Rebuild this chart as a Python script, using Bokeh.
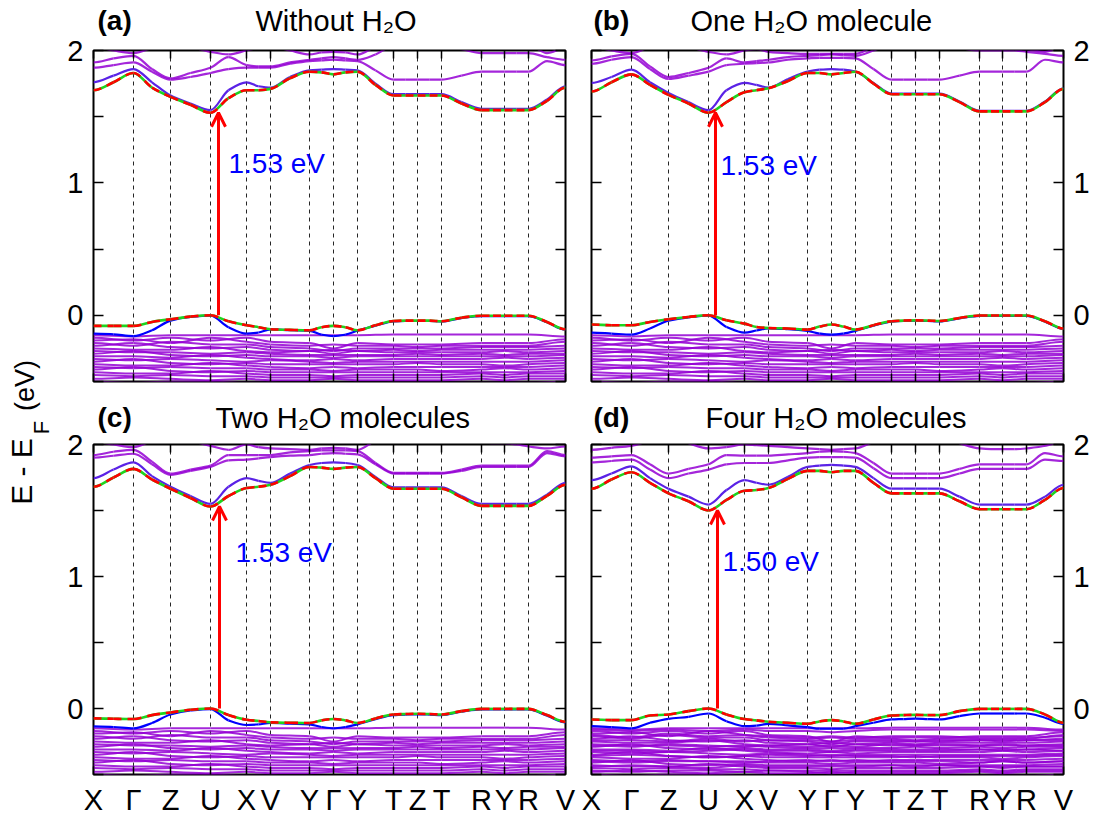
from math import pi
from bokeh.plotting import figure
from bokeh.models import (Range1d, FixedTicker, LinearAxis, Grid, Label, Arrow,
                          OpenHead, ColumnDataSource)
from bokeh.layouts import row, column
from bokeh.embed import file_html
from bokeh.resources import INLINE

# ---------------- k-path ----------------
KPOS = [0, 40, 77, 117, 153, 177, 216, 240, 264, 300, 324, 348, 388, 411, 435, 472]
KLABELS = ["X", "Γ", "Z", "U", "X", "V", "Y", "Γ", "Y", "T", "Z", "T", "R", "Y", "R", "V"]
# sample positions: high-symmetry points and the middle of each segment
KS = [0, 20, 40, 58.5, 77, 97, 117, 135, 153, 165, 177, 196.5, 216, 228, 240, 252, 264,
      282, 300, 312, 324, 336, 348, 368, 388, 399.5, 411, 423, 435, 453.5, 472]

# ---------------- (a) without H2O ----------------
CB1_A = [1.70, 1.76, 1.83, 1.72, 1.65, 1.59, 1.53, 1.64, 1.70, 1.70, 1.71, 1.79, 1.84, 1.835, 1.82, 1.835, 1.84, 1.74, 1.66, 1.66, 1.66, 1.66, 1.66, 1.60, 1.55, 1.55, 1.55, 1.55, 1.55, 1.62, 1.72]
CB2_A = [1.76, 1.81, 1.86, 1.76, 1.66, 1.60, 1.55, 1.70, 1.76, 1.73, 1.72, 1.80, 1.85, 1.855, 1.86, 1.855, 1.85, 1.75, 1.67, 1.67, 1.67, 1.67, 1.67, 1.61, 1.56, 1.56, 1.56, 1.56, 1.56, 1.63, 1.73]
CB3_A = [1.87, 1.89, 1.91, 1.84, 1.78, 1.80, 1.83, 1.86, 1.87, 1.87, 1.87, 1.90, 1.92, 1.925, 1.93, 1.925, 1.92, 1.85, 1.78, 1.78, 1.78, 1.78, 1.78, 1.81, 1.84, 1.84, 1.84, 1.84, 1.84, 1.92, 1.89]
CB4_A = [1.91, 1.94, 1.96, 1.86, 1.79, 1.83, 1.87, 1.95, 1.89, 1.88, 1.88, 1.91, 1.93, 1.94, 1.95, 1.94, 1.93, 1.97, 2.04, 2.05, 2.06, 2.05, 2.04, 2.01, 1.98, 1.98, 1.98, 1.98, 1.98, 1.95, 1.93]
CB5_A = [2.03, 2.00, 1.98, 2.02, 2.08, 2.03, 1.99, 1.97, 2.00, 2.02, 2.03, 2.00, 1.97, 1.985, 1.99, 1.985, 1.97, 2.03, 2.08, 2.09, 2.10, 2.09, 2.08, 2.06, 2.04, 2.04, 2.04, 2.04, 2.04, 1.98, 2.02]
VB1_A = [-0.08, -0.08, -0.08, -0.05, -0.03, -0.01, 0.0, -0.045, -0.075, -0.09, -0.105, -0.11, -0.113, -0.09, -0.08, -0.09, -0.113, -0.075, -0.043, -0.04, -0.04, -0.04, -0.045, -0.018, -0.003, -0.003, -0.003, -0.003, -0.003, -0.05, -0.105]
VB2_A = [-0.138, -0.144, -0.157, -0.113, -0.04, -0.012, -0.003, -0.09, -0.138, -0.13, -0.107, -0.113, -0.117, -0.146, -0.157, -0.146, -0.117, -0.078, -0.046, -0.043, -0.043, -0.043, -0.047, -0.021, -0.006, -0.006, -0.006, -0.006, -0.006, -0.053, -0.108]

# ---------------- (b) one H2O ----------------
CB1_B = [1.69, 1.76, 1.82, 1.74, 1.665, 1.60, 1.53, 1.61, 1.685, 1.70, 1.715, 1.77, 1.83, 1.83, 1.82, 1.83, 1.84, 1.75, 1.67, 1.67, 1.67, 1.67, 1.67, 1.61, 1.54, 1.54, 1.54, 1.54, 1.54, 1.61, 1.71]
CB2_B = [1.755, 1.80, 1.855, 1.76, 1.68, 1.61, 1.55, 1.70, 1.755, 1.74, 1.72, 1.785, 1.84, 1.855, 1.86, 1.855, 1.84, 1.755, 1.675, 1.675, 1.675, 1.675, 1.675, 1.615, 1.545, 1.545, 1.545, 1.545, 1.545, 1.615, 1.715]
CB3_B = [1.90, 1.93, 1.95, 1.86, 1.785, 1.81, 1.84, 1.89, 1.90, 1.905, 1.91, 1.93, 1.94, 1.945, 1.945, 1.945, 1.94, 1.86, 1.78, 1.78, 1.78, 1.78, 1.78, 1.81, 1.84, 1.84, 1.84, 1.84, 1.84, 1.93, 1.91]
CB4_B = [1.925, 1.955, 1.975, 1.88, 1.80, 1.83, 1.87, 1.94, 1.91, 1.92, 1.93, 1.95, 1.96, 1.965, 1.97, 1.965, 1.96, 2.00, 2.05, 2.06, 2.06, 2.06, 2.05, 2.02, 2.00, 2.00, 2.00, 2.00, 1.99, 1.975, 1.96]
CB5_B = [2.03, 2.00, 1.98, 2.03, 2.08, 2.03, 1.99, 1.97, 2.00, 2.01, 1.99, 1.98, 1.975, 1.975, 1.975, 1.975, 1.975, 2.03, 2.08, 2.09, 2.10, 2.09, 2.08, 2.06, 2.04, 2.04, 2.04, 2.03, 2.01, 1.99, 2.03]
VB1_B = [-0.07, -0.075, -0.075, -0.05, -0.03, -0.013, 0.0, -0.038, -0.063, -0.088, -0.096, -0.10, -0.108, -0.085, -0.07, -0.085, -0.108, -0.075, -0.045, -0.04, -0.038, -0.04, -0.043, -0.02, -0.002, -0.002, -0.002, -0.002, -0.002, -0.045, -0.10]
VB2_B = [-0.131, -0.138, -0.146, -0.10, -0.04, -0.015, -0.003, -0.088, -0.131, -0.115, -0.098, -0.105, -0.118, -0.138, -0.146, -0.138, -0.118, -0.078, -0.048, -0.043, -0.041, -0.043, -0.046, -0.023, -0.005, -0.005, -0.005, -0.005, -0.005, -0.048, -0.103]

# ---------------- (c) two H2O ----------------
CB1_C = [1.68, 1.75, 1.815, 1.735, 1.665, 1.595, 1.53, 1.61, 1.67, 1.68, 1.695, 1.76, 1.83, 1.825, 1.815, 1.825, 1.83, 1.745, 1.665, 1.665, 1.665, 1.665, 1.665, 1.60, 1.535, 1.535, 1.535, 1.535, 1.535, 1.61, 1.695]
CB2_C = [1.745, 1.81, 1.865, 1.76, 1.68, 1.61, 1.55, 1.68, 1.745, 1.725, 1.71, 1.78, 1.845, 1.86, 1.865, 1.86, 1.845, 1.755, 1.675, 1.675, 1.675, 1.675, 1.675, 1.61, 1.55, 1.55, 1.55, 1.55, 1.55, 1.62, 1.71]
CB3_C = [1.90, 1.915, 1.93, 1.85, 1.77, 1.80, 1.83, 1.88, 1.885, 1.895, 1.905, 1.915, 1.92, 1.93, 1.935, 1.93, 1.925, 1.85, 1.78, 1.78, 1.78, 1.78, 1.78, 1.80, 1.83, 1.83, 1.83, 1.83, 1.83, 1.935, 1.91]
CB4_C = [1.92, 1.945, 1.96, 1.87, 1.78, 1.81, 1.84, 1.92, 1.92, 1.92, 1.92, 1.94, 1.95, 1.955, 1.955, 1.955, 1.95, 1.86, 1.785, 1.785, 1.785, 1.785, 1.785, 1.81, 1.84, 1.84, 1.84, 1.84, 1.84, 1.95, 1.92]
CB5_C = [2.02, 2.00, 1.98, 2.03, 2.08, 2.03, 1.99, 1.96, 2.00, 1.98, 1.97, 1.965, 1.96, 1.97, 1.975, 1.97, 1.96, 2.03, 2.08, 2.09, 2.10, 2.09, 2.08, 2.05, 2.02, 2.01, 2.01, 2.00, 1.985, 1.97, 1.985]
VB1_C = [-0.075, -0.078, -0.08, -0.05, -0.03, -0.01, 0.0, -0.05, -0.085, -0.095, -0.105, -0.108, -0.11, -0.09, -0.08, -0.09, -0.11, -0.075, -0.045, -0.042, -0.04, -0.042, -0.045, -0.02, -0.003, -0.003, -0.003, -0.003, -0.003, -0.05, -0.10]
VB2_C = [-0.135, -0.14, -0.15, -0.11, -0.045, -0.015, -0.004, -0.09, -0.125, -0.12, -0.11, -0.115, -0.12, -0.14, -0.15, -0.14, -0.12, -0.08, -0.05, -0.046, -0.044, -0.046, -0.05, -0.024, -0.007, -0.007, -0.007, -0.007, -0.007, -0.055, -0.105]

# ---------------- (d) four H2O ----------------
CB1_D = [1.665, 1.735, 1.79, 1.71, 1.63, 1.57, 1.50, 1.58, 1.65, 1.655, 1.67, 1.74, 1.80, 1.80, 1.79, 1.80, 1.80, 1.71, 1.63, 1.63, 1.63, 1.63, 1.63, 1.57, 1.51, 1.51, 1.51, 1.51, 1.51, 1.58, 1.67]
CB2_D = [1.73, 1.78, 1.835, 1.745, 1.665, 1.605, 1.545, 1.655, 1.73, 1.71, 1.695, 1.755, 1.83, 1.84, 1.845, 1.84, 1.83, 1.745, 1.665, 1.665, 1.665, 1.665, 1.665, 1.605, 1.545, 1.545, 1.545, 1.545, 1.545, 1.605, 1.695]
CB3_D = [1.865, 1.875, 1.885, 1.81, 1.745, 1.78, 1.81, 1.85, 1.86, 1.86, 1.86, 1.88, 1.90, 1.905, 1.905, 1.905, 1.90, 1.82, 1.745, 1.745, 1.745, 1.745, 1.745, 1.78, 1.815, 1.815, 1.815, 1.815, 1.815, 1.885, 1.875]
CB4_D = [1.90, 1.91, 1.92, 1.85, 1.78, 1.815, 1.85, 1.92, 1.915, 1.915, 1.915, 1.925, 1.935, 1.945, 1.95, 1.945, 1.935, 1.86, 1.78, 1.78, 1.78, 1.78, 1.78, 1.815, 1.85, 1.85, 1.85, 1.85, 1.85, 1.935, 1.91]
CB5_D = [1.96, 1.975, 1.99, 2.03, 2.06, 2.01, 1.97, 1.98, 2.00, 1.995, 1.99, 1.98, 1.97, 1.965, 1.96, 1.965, 1.97, 2.02, 2.06, 2.07, 2.07, 2.07, 2.06, 2.01, 1.97, 1.965, 1.965, 1.965, 1.97, 1.99, 2.02]
VB1_D = [-0.083, -0.088, -0.088, -0.053, -0.045, -0.02, 0.0, -0.045, -0.08, -0.09, -0.10, -0.108, -0.116, -0.098, -0.088, -0.098, -0.116, -0.083, -0.053, -0.05, -0.048, -0.05, -0.05, -0.02, -0.003, -0.003, -0.003, -0.003, -0.003, -0.045, -0.108]
VB2_D = [-0.134, -0.141, -0.151, -0.108, -0.078, -0.063, -0.038, -0.096, -0.134, -0.13, -0.116, -0.128, -0.141, -0.153, -0.153, -0.153, -0.134, -0.108, -0.083, -0.08, -0.076, -0.08, -0.083, -0.058, -0.038, -0.038, -0.038, -0.038, -0.038, -0.07, -0.116]

# deeper valence bands (values at the 16 high-symmetry points)
DEEP = [
    [-0.15, -0.16, -0.15, -0.15, -0.15, -0.15, -0.15, -0.15, -0.15, -0.145, -0.145, -0.145, -0.145, -0.145, -0.145, -0.16],
    [-0.17, -0.19, -0.17, -0.19, -0.17, -0.20, -0.21, -0.25, -0.21, -0.22, -0.22, -0.22, -0.21, -0.21, -0.21, -0.18],
    [-0.19, -0.18, -0.21, -0.17, -0.20, -0.22, -0.23, -0.22, -0.23, -0.23, -0.24, -0.23, -0.23, -0.23, -0.23, -0.20],
    [-0.21, -0.23, -0.20, -0.22, -0.22, -0.24, -0.25, -0.27, -0.25, -0.25, -0.25, -0.25, -0.24, -0.24, -0.24, -0.23],
    [-0.23, -0.21, -0.24, -0.25, -0.24, -0.26, -0.27, -0.26, -0.27, -0.26, -0.27, -0.26, -0.26, -0.26, -0.26, -0.25],
    [-0.25, -0.26, -0.26, -0.24, -0.27, -0.28, -0.27, -0.29, -0.27, -0.28, -0.28, -0.28, -0.28, -0.27, -0.28, -0.27],
    [-0.27, -0.28, -0.28, -0.29, -0.28, -0.29, -0.30, -0.30, -0.30, -0.30, -0.29, -0.30, -0.29, -0.30, -0.29, -0.29],
    [-0.29, -0.27, -0.30, -0.31, -0.30, -0.31, -0.31, -0.32, -0.31, -0.31, -0.31, -0.31, -0.31, -0.31, -0.31, -0.30],
    [-0.31, -0.31, -0.32, -0.30, -0.32, -0.33, -0.34, -0.33, -0.34, -0.33, -0.33, -0.33, -0.33, -0.32, -0.33, -0.32],
    [-0.33, -0.34, -0.33, -0.34, -0.35, -0.34, -0.35, -0.36, -0.35, -0.35, -0.35, -0.35, -0.35, -0.35, -0.35, -0.34],
    [-0.35, -0.33, -0.36, -0.37, -0.36, -0.37, -0.37, -0.37, -0.37, -0.37, -0.36, -0.37, -0.37, -0.38, -0.37, -0.36],
    [-0.37, -0.38, -0.38, -0.36, -0.38, -0.39, -0.40, -0.39, -0.40, -0.39, -0.39, -0.39, -0.39, -0.39, -0.39, -0.38],
    [-0.39, -0.40, -0.39, -0.40, -0.40, -0.41, -0.41, -0.42, -0.41, -0.41, -0.41, -0.42, -0.41, -0.40, -0.41, -0.40],
    [-0.41, -0.39, -0.42, -0.43, -0.42, -0.43, -0.43, -0.43, -0.43, -0.43, -0.43, -0.43, -0.43, -0.43, -0.43, -0.42],
    [-0.43, -0.44, -0.44, -0.42, -0.44, -0.45, -0.45, -0.46, -0.45, -0.45, -0.45, -0.45, -0.44, -0.45, -0.44, -0.44],
    [-0.45, -0.46, -0.45, -0.46, -0.46, -0.47, -0.47, -0.47, -0.47, -0.47, -0.47, -0.47, -0.46, -0.47, -0.46, -0.46],
    [-0.48, -0.47, -0.48, -0.49, -0.48, -0.49, -0.49, -0.48, -0.49, -0.49, -0.49, -0.49, -0.48, -0.49, -0.48, -0.48],
    [-0.50, -0.51, -0.50, -0.50, -0.51, -0.51, -0.52, -0.52, -0.52, -0.51, -0.51, -0.51, -0.51, -0.51, -0.51, -0.50],
]
DEEP_D_EXTRA = [
    [-0.16, -0.17, -0.16, -0.17, -0.16, -0.17, -0.17, -0.18, -0.17, -0.16, -0.16, -0.16, -0.16, -0.16, -0.16, -0.17],
    [-0.20, -0.22, -0.19, -0.21, -0.20, -0.21, -0.22, -0.21, -0.22, -0.21, -0.21, -0.21, -0.22, -0.22, -0.22, -0.21],
    [-0.24, -0.24, -0.25, -0.23, -0.25, -0.24, -0.24, -0.25, -0.24, -0.24, -0.25, -0.24, -0.24, -0.25, -0.24, -0.24],
    [-0.28, -0.29, -0.27, -0.28, -0.29, -0.28, -0.29, -0.28, -0.29, -0.27, -0.28, -0.27, -0.28, -0.28, -0.28, -0.28],
    [-0.32, -0.32, -0.33, -0.32, -0.31, -0.32, -0.32, -0.33, -0.32, -0.32, -0.32, -0.32, -0.31, -0.32, -0.31, -0.32],
    [-0.36, -0.35, -0.36, -0.37, -0.36, -0.35, -0.36, -0.35, -0.36, -0.36, -0.37, -0.36, -0.36, -0.36, -0.36, -0.35],
    [-0.40, -0.41, -0.40, -0.40, -0.41, -0.40, -0.39, -0.40, -0.39, -0.40, -0.40, -0.40, -0.41, -0.40, -0.41, -0.40],
    [-0.44, -0.43, -0.44, -0.45, -0.43, -0.44, -0.44, -0.44, -0.44, -0.43, -0.44, -0.43, -0.44, -0.44, -0.44, -0.44],
    [-0.47, -0.48, -0.47, -0.47, -0.48, -0.47, -0.48, -0.49, -0.48, -0.48, -0.48, -0.48, -0.47, -0.48, -0.47, -0.47],
]

TAGS = ["(a)", "(b)", "(c)", "(d)"]
TITLES = ["Without H₂O", "One H₂O molecule", "Two H₂O molecules", "Four H₂O molecules"]
GAPS = [1.53, 1.53, 1.53, 1.50]
GAP_TEXT = ["1.53 eV", "1.53 eV", "1.53 eV", "1.50 eV"]

# ---------------- style ----------------
FONT = "Liberation Sans"
PURPLE = "#9400d3"
BLUE = "#0000ff"
BLUE_C = "#5a22e6"
RED = "#ff0000"
GREEN = "#1ed41e"
U_IDX = 3


def bezier_data(xs, bands):
    """Smooth (monotone cubic Hermite) rendering of each band as bezier segments."""
    out = {k: [] for k in ("x0", "y0", "x1", "y1", "cx0", "cy0", "cx1", "cy1")}
    for ys in bands:
        n = len(xs)
        d = [(ys[i + 1] - ys[i]) / (xs[i + 1] - xs[i]) for i in range(n - 1)]
        m = [0.0] * n
        for i in range(1, n - 1):
            if d[i - 1] * d[i] > 0:
                m[i] = 2.0 / (1.0 / d[i - 1] + 1.0 / d[i])
        for i in range(n - 1):
            h = xs[i + 1] - xs[i]
            out["x0"].append(xs[i]); out["y0"].append(ys[i])
            out["x1"].append(xs[i + 1]); out["y1"].append(ys[i + 1])
            out["cx0"].append(xs[i] + h / 3); out["cy0"].append(ys[i] + m[i] * h / 3)
            out["cx1"].append(xs[i + 1] - h / 3); out["cy1"].append(ys[i + 1] - m[i + 1] * h / 3)
    return ColumnDataSource(out)


def draw(p, xs, bands, **kw):
    p.bezier(x0="x0", y0="y0", x1="x1", y1="y1", cx0="cx0", cy0="cy0",
             cx1="cx1", cy1="cy1", source=bezier_data(xs, bands), **kw)


def y_axis(show):
    if show:
        tk = FixedTicker(ticks=[0, 1, 2], minor_ticks=[-0.5, 0.5, 1.5])
    else:
        tk = FixedTicker(ticks=[], minor_ticks=[-0.5, 0, 0.5, 1, 1.5, 2])
    ax = LinearAxis(ticker=tk, major_tick_in=10, major_tick_out=0, minor_tick_in=10,
                    minor_tick_out=0, major_tick_line_width=1.5, minor_tick_line_width=1.5,
                    axis_line_color=None, major_label_text_font=FONT,
                    major_label_text_font_size="29px", major_label_text_color="black",
                    major_label_standoff=10 if show else 0)
    return ax


def x_axis(show):
    if show:
        tk = FixedTicker(ticks=KPOS)
    else:
        tk = FixedTicker(ticks=[], minor_ticks=KPOS)
    ax = LinearAxis(ticker=tk, major_tick_in=8, major_tick_out=0, minor_tick_in=8,
                    minor_tick_out=0, axis_line_color=None, major_tick_line_width=1.5,
                    minor_tick_line_width=1.5, major_label_text_font=FONT,
                    major_label_text_font_size="29px", major_label_text_color="black",
                    major_label_standoff=9 if show else 0)
    if show:
        ax.major_label_overrides = {k: lab for k, lab in zip(KPOS, KLABELS)}
    return ax


def panel(i, cbs, vbs, deep):
    left = i % 2 == 0
    top = i < 2
    w = 522 if left else 523
    h = 362 if top else 391
    p = figure(width=w, height=h, x_range=Range1d(0, 472), y_range=Range1d(-0.5, 2.0),
               x_axis_location=None, y_axis_location=None,
               toolbar_location=None, output_backend="svg",
               min_border_left=37 if left else 13, min_border_right=13 if left else 38,
               min_border_top=17, min_border_bottom=14 if top else 43)
    p.xgrid.visible = False
    p.ygrid.visible = False
    p.border_fill_color = None
    p.background_fill_color = "white"
    p.outline_line_color = "black"
    p.outline_line_width = 2
    p.add_layout(Grid(dimension=0, ticker=FixedTicker(ticks=KPOS[1:-1]),
                      grid_line_color="black", grid_line_dash="4 4", grid_line_width=1,
                      grid_line_alpha=0.85))
    p.add_layout(y_axis(left), "left")
    p.add_layout(y_axis(not left), "right")
    p.add_layout(x_axis(not top), "below")
    p.add_layout(x_axis(False), "above")

    cb1, cb2, cb_up = cbs
    vb1, vb2 = vbs
    draw(p, KPOS, deep, line_color=PURPLE, line_width=2, line_alpha=0.85)
    draw(p, KS, cb_up, line_color=PURPLE, line_width=2.2, line_alpha=0.85)
    draw(p, KS, [cb2], line_color=BLUE_C, line_width=2.2)
    draw(p, KS, [vb2], line_color=BLUE, line_width=2.2)
    draw(p, KS, [cb1, vb1], line_color=GREEN, line_width=2.6)
    draw(p, KS, [cb1, vb1], line_color=RED, line_width=2.6, line_dash="8 6")

    # gap arrow at U
    xu = KPOS[U_IDX] + (8, 7, 9, 9)[i]
    vbm = vb1[KS.index(KPOS[U_IDX])]
    p.add_layout(Arrow(x_start=xu, y_start=vbm, x_end=xu, y_end=GAPS[i],
                       line_color=RED, line_width=3,
                       end=OpenHead(size=14, line_color=RED, line_width=3)))
    gx = KPOS[U_IDX] + (18, 12, 25, 14)[i]
    gy = (1.15, 1.13, 1.18, 1.11)[i]
    p.add_layout(Label(x=gx, y=gy, text=GAP_TEXT[i], text_color=BLUE, text_font=FONT,
                       text_font_size="28px", text_baseline="middle"))
    return p


def strip(h, overlap, items):
    """Title strip above a row of panels; items: (x, y, text, bold) in pixels."""
    s = figure(width=1045, height=h, x_range=Range1d(0, 1045), y_range=Range1d(0, h),
               x_axis_location=None, y_axis_location=None, toolbar_location=None,
               output_backend="svg", min_border=0, margin=(0, 0, -overlap, 0))
    s.outline_line_color = None
    s.xgrid.visible = False
    s.ygrid.visible = False
    for x, y, text, bold in items:
        s.add_layout(Label(x=x, y=y, text=text, text_font=FONT,
                           text_font_size="28px" if bold else "29px",
                           text_font_style="bold" if bold else "normal",
                           text_baseline="middle", text_color="black"))
    return s


pa = panel(0, (CB1_A, CB2_A, [CB3_A, CB4_A, CB5_A]), (VB1_A, VB2_A), DEEP)
pb = panel(1, (CB1_B, CB2_B, [CB3_B, CB4_B, CB5_B]), (VB1_B, VB2_B), DEEP)
pc = panel(2, (CB1_C, CB2_C, [CB3_C, CB4_C, CB5_C]), (VB1_C, VB2_C), DEEP)
pd = panel(3, (CB1_D, CB2_D, [CB3_D, CB4_D, CB5_D]), (VB1_D, VB2_D), DEEP + DEEP_D_EXTRA)

s1 = strip(40, 7, [(41, 20, TAGS[0], True), (199, 20, TITLES[0], False),
                   (537, 20, TAGS[1], True), (634, 20, TITLES[1], False)])
s2 = strip(41, 9, [(41, 19, TAGS[2], True), (159, 19, TITLES[2], False),
                   (537, 19, TAGS[3], True), (649, 19, TITLES[3], False)])

# shared y-axis title
yl = figure(width=56, height=818, x_range=Range1d(0, 56), y_range=Range1d(0, 818),
            x_axis_location=None, y_axis_location=None, toolbar_location=None,
            output_backend="svg", min_border=0)
yl.outline_line_color = None
yl.xgrid.visible = False
yl.ygrid.visible = False
yl.add_layout(Label(x=21, y=347, text="E - E", angle=pi / 2, text_align="center",
                    text_baseline="middle", text_font=FONT, text_font_size="30px",
                    text_color="black"))
yl.add_layout(Label(x=41, y=391, text="F", angle=pi / 2, text_align="center",
                    text_baseline="middle", text_font=FONT, text_font_size="22px",
                    text_color="black"))
yl.add_layout(Label(x=24, y=433, text="(eV)", angle=pi / 2, text_align="center",
                    text_baseline="middle", text_font=FONT, text_font_size="27px",
                    text_color="black"))

layout = row(yl, column(s1, row(pa, pb), s2, row(pc, pd)))
open("out.html", "w").write(file_html(layout, INLINE))
